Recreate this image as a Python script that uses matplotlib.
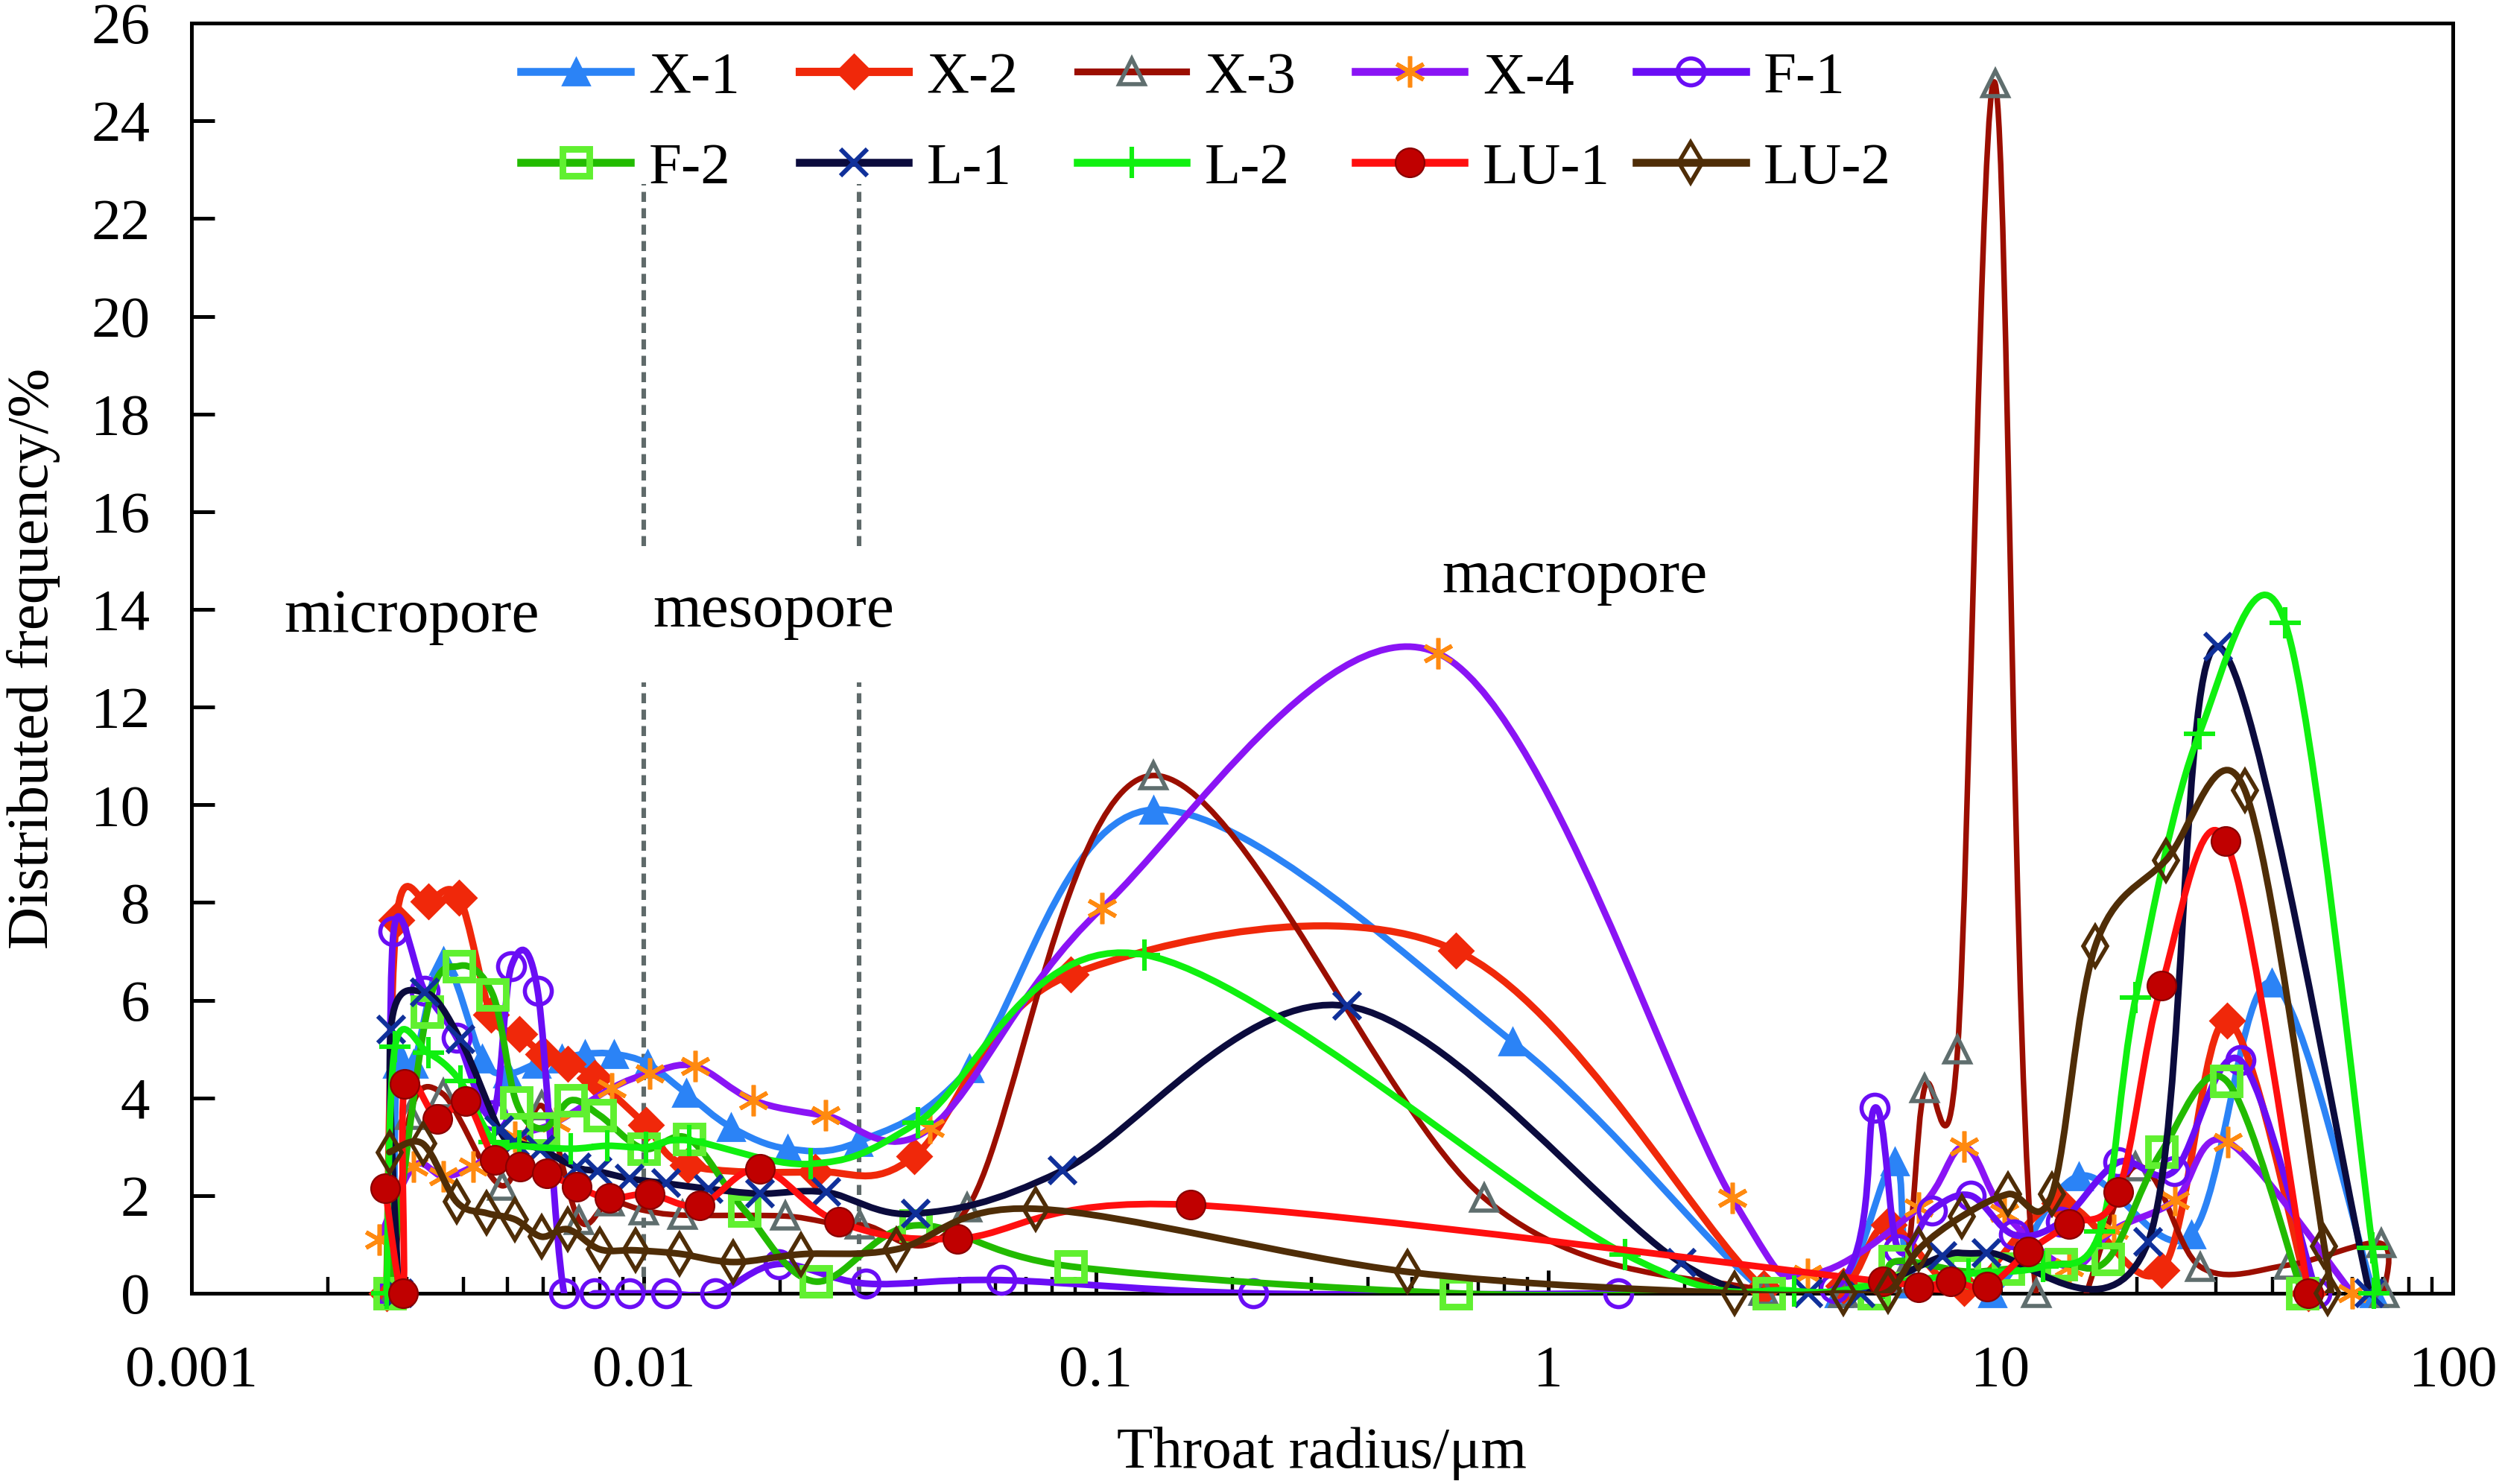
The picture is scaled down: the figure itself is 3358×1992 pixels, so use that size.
import numpy as np
import matplotlib
matplotlib.use('Agg')
import matplotlib.pyplot as plt
from matplotlib.path import Path
from matplotlib.patches import PathPatch
from matplotlib.lines import Line2D
from matplotlib.ticker import LogLocator, FixedLocator, FixedFormatter, NullFormatter

plt.rcParams['font.family'] = ['Liberation Serif', 'DejaVu Serif']

# ---- data (x = throat radius in um, y = frequency %) ----
x1_x = [0.0028, 0.00285, 0.0031, 0.0036, 0.0044, 0.005, 0.0058, 0.0066, 0.0074, 0.0086, 0.0102,
        0.0124, 0.0156, 0.0208, 0.0298, 0.0524, 0.134, 0.834, 3.0, 4.4, 5.83, 6.4, 9.6, 14.9,
        26.4, 39.8, 66.9]
x1_y = [0, 4.7, 4.7, 6.8, 4.8, 4.5, 4.7, 4.8, 4.9, 4.9, 4.7,
        4.1, 3.4, 2.96, 3.1, 4.6, 9.9, 5.15, 0.05, 0.0, 2.7, 0.2, 0.0, 2.4,
        1.2, 6.36, 0]

x2_x = [0.0027, 0.00284, 0.00334, 0.00391, 0.0046, 0.0053, 0.006, 0.0068, 0.0078, 0.0101, 0.0125,
        0.0239, 0.0396, 0.088, 0.624, 3.0, 4.5, 5.66, 8.3, 13.5, 22.7, 31.7, 48]
x2_y = [0, 7.64, 8.02, 8.1, 5.7, 5.3, 4.9, 4.7, 4.4, 3.45, 2.62,
        2.49, 2.8, 6.52, 7.02, 0.1, 0.15, 1.4, 0.1, 1.85, 0.47, 5.58, 0]

x3_x = [0.0028, 0.00304, 0.0036, 0.00487, 0.00595, 0.0072, 0.0084, 0.01, 0.0122, 0.0206, 0.0301,
        0.052, 0.134, 0.722, 3.0, 4.5, 6.05, 6.79, 8.04, 9.73, 12.0, 19.9, 27.7, 43.4, 69.4, 70.5]
x3_y = [0, 3.65, 4.08, 2.2, 3.84, 1.5, 1.87, 1.7, 1.6, 1.58, 1.4,
        1.75, 10.6, 1.95, 0.05, 0.0, 0.3, 4.19, 4.99, 24.77, 0, 2.6, 0.54, 0.58, 1.02, 0]

x4_x = [0.0026, 0.0031, 0.0036, 0.0042, 0.0052, 0.0064, 0.0085, 0.0103, 0.013, 0.0175, 0.0252,
        0.043, 0.103, 0.571, 2.55, 3.75, 6.6, 8.3, 10.2, 14.2, 17.8, 24.3, 31.8, 60]
x4_y = [1.1, 2.6, 2.4, 2.6, 3.2, 3.5, 4.2, 4.5, 4.65, 3.95, 3.64,
        3.38, 7.88, 13.1, 1.95, 0.4, 1.75, 3.0, 1.65, 0.53, 1.3, 1.9, 3.1, 0]

f1_x = [0.00275, 0.0028, 0.00328, 0.00386, 0.00463, 0.0051, 0.00583, 0.00667, 0.0078, 0.0093,
        0.0112, 0.0144, 0.0199, 0.031, 0.0617, 0.223, 1.43, 4.3, 5.28, 5.94, 7.05, 8.6, 10.7,
        13.6, 18.2, 24.2, 33.9, 50]
f1_y = [0, 7.41, 6.19, 5.23, 3.64, 6.7, 6.19, 0, 0, 0,
        0, 0, 0.6, 0.2, 0.27, 0, 0, 0.1, 3.8, 0.9, 1.7, 2.0, 1.2,
        1.46, 2.68, 2.5, 4.77, 0]

f2_x = [0.00274, 0.00332, 0.00391, 0.00464, 0.00523, 0.006, 0.0069, 0.008, 0.01, 0.0126, 0.0167,
        0.024, 0.0399, 0.088, 0.624, 3.08, 5.26, 5.84, 8.3, 10.4, 13.6, 17.3, 22.7, 31.6, 46.5]
f2_y = [0, 5.76, 6.7, 6.11, 3.91, 3.37, 3.95, 3.64, 2.96, 3.16, 1.7,
        0.24, 1.39, 0.55, 0, 0, 0, 0.65, 0.45, 0.5, 0.6, 0.7, 2.9, 4.35, 0]

l1_x = [0.00287, 0.00276, 0.00328, 0.00393, 0.0048, 0.0052, 0.0059, 0.0071, 0.0079, 0.0093, 0.0112,
        0.0139, 0.0181, 0.0253, 0.04, 0.0842, 0.359, 1.97, 3.76, 4.9, 7.45, 9.3, 21.2, 30.3, 65.5]
l1_y = [0, 5.4, 6.16, 5.2, 3.34, 3.1, 2.95, 2.58, 2.5, 2.35, 2.25,
        2.14, 2.04, 2.07, 1.63, 2.51, 5.88, 0.62, 0, 0, 0.76, 0.83, 1.05, 13.24, 0]

l2_x = [0.0027, 0.00282, 0.00334, 0.00393, 0.00466, 0.0053, 0.0069, 0.0083, 0.0101, 0.0126, 0.0234,
        0.0404, 0.128, 1.48, 3.5, 5.5, 8.5, 12.4, 16.6, 19.9, 27.5, 42.6, 66.5, 67]
l2_y = [0, 5.05, 4.92, 4.34, 3.1, 3.02, 2.96, 3.02, 2.99, 3.13, 2.65,
        3.5, 6.93, 0.8, 0.05, 0.2, 0.4, 0.55, 1.26, 6.05, 11.45, 13.73, 0.93, 0]

lu1_x = [0.00268, 0.00294, 0.00296, 0.0035, 0.00404, 0.00469, 0.00533, 0.0061, 0.0071, 0.0084,
         0.0103, 0.0133, 0.0181, 0.027, 0.0494, 0.162, 5.49, 6.6, 7.76, 9.35, 11.5, 14.2, 18.2,
         22.7, 31.5, 48]
lu1_y = [2.15, 0, 4.28, 3.57, 3.93, 2.73, 2.6, 2.45, 2.18, 1.95,
         2.03, 1.8, 2.55, 1.46, 1.12, 1.81, 0.24, 0.12, 0.24, 0.14, 0.85, 1.42, 2.07,
         6.3, 9.25, 0]

lu2_x = [0.00274, 0.00325, 0.00386, 0.0045, 0.0052, 0.00594, 0.0068, 0.008, 0.0096, 0.012, 0.0158,
         0.0223, 0.0362, 0.0737, 0.488, 2.58, 4.5, 5.65, 6.6, 8.2, 10.4, 13.0, 16.2, 23.2, 34.7,
         52, 53]
lu2_y = [2.89, 3.06, 1.87, 1.64, 1.51, 1.16, 1.31, 0.9, 0.88, 0.81, 0.64,
         0.8, 0.9, 1.73, 0.44, 0, 0, 0.04, 0.9, 1.57, 2.03, 2.03, 7.1, 8.86, 10.3,
         0.96, 0]

names = ['X-1', 'X-2', 'X-3', 'X-4', 'F-1', 'F-2', 'L-1', 'L-2', 'LU-1', 'LU-2']
all_x = [x1_x, x2_x, x3_x, x4_x, f1_x, f2_x, l1_x, l2_x, lu1_x, lu2_x]
all_y = [x1_y, x2_y, x3_y, x4_y, f1_y, f2_y, l1_y, l2_y, lu1_y, lu2_y]

xtick_vals = [0.001, 0.01, 0.1, 1, 10, 100]
xtick_labels = ['0.001', '0.01', '0.1', '1', '10', '100']
ytick_vals = list(range(0, 27, 2))

# pore class boundaries (dashed) and the text labels
bounds = [0.01, 0.03]
bound_spans = [(0, 12.5), (15.3, 22.7)]
zone_names = ['micropore', 'mesopore', 'macropore']
zone_x = [0.00307, 0.0194, 1.146]
zone_y = [13.85, 13.95, 14.65]

# line colour, width, marker, marker size, face, edge, edge width
styles = {
    'X-1': dict(c='#2B83F6', lw=3.2, m='^', ms=13, mfc='#2B83F6', mec='#2B83F6', mew=1),
    'X-2': dict(c='#F0280A', lw=3.4, m='D', ms=11.5, mfc='#F0280A', mec='#F0280A', mew=1),
    'X-3': dict(c='#9B0E00', lw=2.7, m='^', ms=12.5, mfc='none', mec='#5F6E6E', mew=2.0),
    'X-4': dict(c='#8A14F5', lw=3.2, m=(6, 2, 0), ms=15, mfc='#FF8A10', mec='#FF8A10', mew=2.0),
    'F-1': dict(c='#6A0DF5', lw=3.2, m='o', ms=13, mfc='none', mec='#6A0DF5', mew=2.0),
    'F-2': dict(c='#22BB00', lw=3.2, m='s', ms=13, mfc='none', mec='#60F030', mew=3.2),
    'L-1': dict(c='#0B0B3D', lw=3.2, m='x', ms=13, mfc='none', mec='#10309A', mew=2.2),
    'L-2': dict(c='#10F010', lw=3.2, m='+', ms=15, mfc='none', mec='#10F010', mew=2.2),
    'LU-1': dict(c='#FF0F0F', lw=3.2, m='o', ms=14, mfc='#C00000', mec='#8A0000', mew=0.8),
    'LU-2': dict(c='#4F2D07', lw=3.2, m='d', ms=14, mfc='none', mec='#4F2D07', mew=2.0),
}


def smooth_path(xs, ys):
    # Excel-like smoothed line: catmull-rom turned into cubic beziers in log10(x) space
    lx = np.log10(np.asarray(xs, float))
    y = np.asarray(ys, float)
    n = len(lx)
    verts = [(xs[0], ys[0])]
    codes = [Path.MOVETO]
    for i in range(n - 1):
        i0 = max(i - 1, 0)
        i3 = min(i + 2, n - 1)
        c1x = lx[i] + (lx[i + 1] - lx[i0]) / 6
        c1y = y[i] + (y[i + 1] - y[i0]) / 6
        c2x = lx[i + 1] - (lx[i3] - lx[i]) / 6
        c2y = y[i + 1] - (y[i3] - y[i]) / 6
        verts += [(10 ** c1x, c1y), (10 ** c2x, c2y), (xs[i + 1], ys[i + 1])]
        codes += [Path.CURVE4] * 3
    return Path(verts, codes)


fig = plt.figure(figsize=(16.79, 9.96), dpi=200)
ax = fig.add_axes([0.0765, 0.1285, 0.9038, 0.8559])
ax.set_xscale('log')
ax.set_xlim(0.001, 100)
ax.set_ylim(0, 26)

for k, name in enumerate(names):
    s = styles[name]
    patch = PathPatch(smooth_path(all_x[k], all_y[k]), facecolor='none', edgecolor=s['c'],
                      lw=s['lw'], joinstyle='round', capstyle='round', zorder=3 + k * 0.1)
    ax.add_patch(patch)
    ax.plot(all_x[k], all_y[k], ls='none', marker=s['m'], ms=s['ms'], mfc=s['mfc'],
            mec=s['mec'], mew=s['mew'], clip_on=False, zorder=3.05 + k * 0.1)

for b in bounds:
    for lo, hi in bound_spans:
        ax.plot([b, b], [lo, hi], color='#5F6A6A', lw=2.2, ls=(0, (2.2, 1.4)), zorder=2)

for t, tx, ty in zip(zone_names, zone_x, zone_y):
    ax.text(tx, ty, t, ha='center', va='center', fontsize=30)

# axes cosmetics
ax.xaxis.set_major_locator(FixedLocator(xtick_vals))
ax.xaxis.set_major_formatter(FixedFormatter(xtick_labels))
ax.xaxis.set_minor_locator(LogLocator(base=10, subs=np.arange(2, 10)))
ax.xaxis.set_minor_formatter(NullFormatter())
ax.set_yticks(ytick_vals)
ax.tick_params(axis='x', which='major', direction='in', length=11, width=1.8, pad=25, labelsize=28.5)
ax.tick_params(axis='x', which='minor', direction='in', length=8, width=1.6)
ax.tick_params(axis='y', which='major', direction='in', length=11, width=1.8, pad=20, labelsize=28.5)
for sp in ax.spines.values():
    sp.set_linewidth(1.8)

ax.set_xlabel('Throat radius/μm', fontsize=28.5)
ax.set_ylabel('Distributed frequency/%', fontsize=28.5)
ax.xaxis.set_label_coords(0.5, -0.105)
ax.yaxis.set_label_coords(-0.058, 0.5)

# legend: 2 rows x 5 evenly spaced columns; matplotlib fills column by column,
# so the last column goes in its own legend to keep the spacing even
handles = {}
for name in names:
    s = styles[name]
    handles[name] = Line2D([], [], color=s['c'], lw=s['lw'] + 0.6, marker=s['m'], ms=s['ms'],
                           mfc=s['mfc'], mec=s['mec'], mew=s['mew'])
leg_kw = dict(loc='upper left', frameon=False, fontsize=28.5, handlelength=1.85,
              handletextpad=0.31, columnspacing=1.0, labelspacing=0.62,
              borderpad=0, borderaxespad=0, numpoints=1)
order = ['X-1', 'F-2', 'X-2', 'L-1', 'X-3', 'L-2', 'X-4', 'LU-1']
leg1 = ax.legend([handles[n] for n in order], order, ncol=4,
                 bbox_to_anchor=(0.1458, 0.978), **leg_kw)
ax.add_artist(leg1)
last_col = ['F-1', 'LU-2']
ax.legend([handles[n] for n in last_col], last_col, ncol=1,
          bbox_to_anchor=(0.639, 0.978), **leg_kw)

fig.savefig('out.png', dpi=200)
